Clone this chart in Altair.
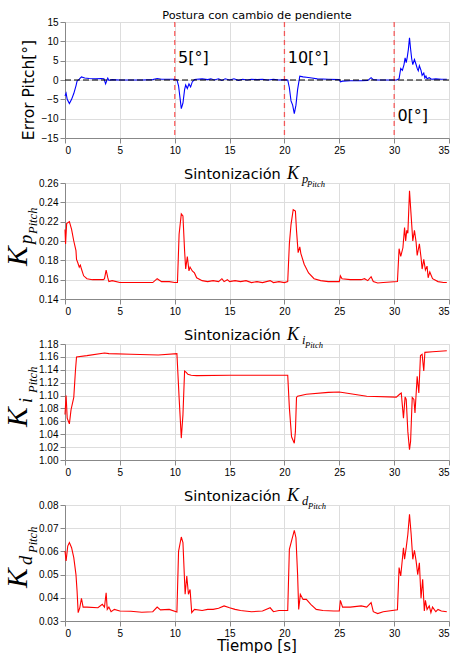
import altair as alt
import pandas as pd

# ---------------- data ----------------
t_err = [0, 0.1, 0.2, 0.4, 0.6, 0.8, 1.0, 1.1, 1.3, 1.5, 1.8, 2.2, 2.8, 3.3, 3.55, 3.7, 3.8, 3.9, 4.0, 4.3,
         5, 6, 7, 8, 8.4, 8.8, 9.5, 10.0, 10.2, 10.35, 10.5, 10.6, 10.75, 10.9, 11.0, 11.15, 11.3, 11.45,
         11.6, 11.8, 12.0, 12.5, 13.0, 13.3, 13.6, 14.0, 14.3, 14.6, 15.0, 15.4, 15.8, 16.2, 16.6, 17.0,
         17.5, 18.0, 18.5, 19.0, 19.5, 20.0, 20.3, 20.45, 20.6, 20.75, 20.9, 21.05, 21.2, 21.4, 21.7, 22.0,
         22.5, 23.0, 24.0, 25.0, 25.1, 25.3, 26.0, 27.0, 27.6, 27.9, 28.1, 28.5, 29.5, 30.2, 30.45, 30.6,
         30.75, 30.9, 31.0, 31.1, 31.2, 31.3, 31.4, 31.5, 31.6, 31.7, 31.85, 32.0, 32.1, 32.2, 32.3, 32.45,
         32.55, 32.7, 32.8, 32.9, 33.0, 33.2, 33.4, 33.8, 34.3, 34.8]
err_pitch = [-4.1, -3.4, -5.0, -6.1, -5.0, -3.5, -1.5, -0.3, 0.2, 0.8, 0.5, 0.4, 0.3, 0.4, 0.3, -1.0, -0.2, 0.5, -0.1, 0.1,
             0.0, 0.0, 0.0, 0.1, 0.4, 0.2, 0.2, 0.2, 0.1, -1.5, -5.0, -7.4, -6.0, -2.5, -1.3, -2.2, -1.0, -1.8,
             -0.5, 0.1, 0.2, 0.3, 0.1, 0.3, 0.0, 0.3, -0.1, 0.3, 0.0, 0.3, -0.1, 0.2, 0.0, 0.2,
             0.1, 0.2, 0.0, 0.2, 0.0, 0.1, 0.0, -2.0, -5.4, -6.5, -8.7, -6.5, -2.5, 1.0, 0.8, 0.7,
             0.5, 0.3, 0.2, 0.1, -0.5, -0.3, -0.2, -0.2, -0.1, 0.6, 0.1, 0.0, 0.0, 0.0, 0.3, 3.0,
             2.5, 4.0, 5.7, 4.5, 6.0, 8.0, 10.9, 8.0, 5.5, 4.0, 5.3, 4.0, 3.0, 2.4, 3.7, 2.5,
             1.2, 1.8, 0.5, 1.0, 0.3, 0.6, 0.2, 0.3, 0.2, 0.2]

t_kp = [0, 0.05, 0.15, 0.4, 0.6, 0.8, 1.0, 1.05, 1.15, 1.3, 1.4, 1.5, 1.7, 2.0, 2.5, 3.0, 3.5, 3.6, 3.75, 3.9,
        4.0, 4.3, 5.0, 6.0, 7.0, 8.0, 8.4, 8.8, 9.5, 10.0, 10.25, 10.4, 10.6, 10.75, 10.9, 11.0, 11.15, 11.3,
        11.4, 11.6, 11.8, 12.0, 12.5, 13.0, 13.5, 14.0, 14.3, 14.5, 14.8, 15.0, 15.5, 16.0, 16.5, 17.0, 17.5,
        18.0, 18.7, 19.0, 19.5, 20.0, 20.3, 20.45, 20.6, 20.8, 21.0, 21.1, 21.25, 21.4, 21.5, 21.8, 22.2, 22.7,
        23.3, 24.0, 25.0, 25.1, 25.25, 26.0, 27.0, 27.3, 27.6, 27.9, 28.1, 28.5, 29.0, 30.3, 30.45, 30.6, 30.8,
        30.95, 31.05, 31.15, 31.25, 31.4, 31.55, 31.7, 31.85, 32.0, 32.1, 32.3, 32.45, 32.55, 32.7, 32.85,
        33.0, 33.1, 33.25, 33.5, 34.0, 34.5, 34.8]
kp_pitch = [0.212, 0.197, 0.218, 0.220, 0.212, 0.200, 0.190, 0.181, 0.178, 0.173, 0.175, 0.171, 0.164, 0.161, 0.160, 0.160, 0.160, 0.161, 0.170, 0.162,
            0.158, 0.159, 0.157, 0.157, 0.157, 0.157, 0.161, 0.158, 0.158, 0.157, 0.157, 0.207, 0.228, 0.226, 0.190, 0.171, 0.184, 0.169,
            0.173, 0.169, 0.167, 0.162, 0.159, 0.158, 0.159, 0.158, 0.161, 0.158, 0.160, 0.158, 0.159, 0.158, 0.159, 0.157, 0.158,
            0.157, 0.159, 0.157, 0.158, 0.157, 0.158, 0.197, 0.217, 0.2324, 0.231, 0.211, 0.188, 0.194, 0.187, 0.176, 0.167, 0.161,
            0.159, 0.158, 0.158, 0.164, 0.161, 0.160, 0.160, 0.161, 0.159, 0.163, 0.158, 0.1565, 0.157, 0.158, 0.192, 0.184, 0.193,
            0.214, 0.200, 0.211, 0.208, 0.252, 0.226, 0.200, 0.211, 0.199, 0.185, 0.197, 0.183, 0.171, 0.181, 0.170,
            0.174, 0.162, 0.168, 0.161, 0.158, 0.157, 0.157]

t_ki = [0, 0.1, 0.2, 0.4, 0.55, 0.8, 0.95, 1.05, 2.0, 3.6, 4.0, 6.0, 8.5, 10.2, 10.4, 10.6, 10.75, 10.9, 11.05,
        11.2, 11.5, 12.0, 15.0, 20.3, 20.45, 20.65, 20.9, 21.0, 21.1, 21.2, 22.0, 24.0, 25.0, 27.5, 30.2, 30.5,
        30.65, 30.85, 31.0, 31.1, 31.25, 31.4, 31.5, 31.65, 31.8, 31.9, 32.1, 32.25, 32.4, 32.55, 32.7, 32.8,
        33.5, 34.8]
ki_pitch = [1.0705, 1.100, 1.065, 1.056, 1.078, 1.097, 1.138, 1.160, 1.162, 1.166, 1.165, 1.164, 1.163, 1.165, 1.097, 1.034, 1.070, 1.138, 1.136,
            1.133, 1.1315, 1.131, 1.1315, 1.1315, 1.081, 1.036, 1.026, 1.044, 1.097, 1.099, 1.102, 1.105, 1.1055, 1.099, 1.0975, 1.102,
            1.104, 1.065, 1.098, 1.094, 1.044, 1.016, 1.029, 1.097, 1.094, 1.073, 1.130, 1.104, 1.162, 1.164, 1.138, 1.167,
            1.168, 1.1696]

t_kd = [0, 0.1, 0.25, 0.4, 0.6, 0.8, 1.0, 1.1, 1.2, 1.35, 1.5, 1.65, 2.0, 3.0, 3.4, 3.6, 3.75, 3.85, 4.0, 4.2,
        4.5, 5.0, 6.0, 7.0, 8.0, 8.4, 8.7, 9.5, 10.2, 10.35, 10.6, 10.75, 10.95, 11.1, 11.25, 11.4, 11.55, 11.8,
        12.5, 13.0, 13.5, 14.0, 14.5, 15.0, 15.5, 16.0, 17.0, 18.0, 18.7, 19.0, 19.5, 20.3, 20.45, 20.65, 20.9,
        21.05, 21.2, 21.3, 21.45, 21.7, 22.0, 22.4, 22.9, 23.5, 24.5, 25.0, 25.1, 25.3, 26.0, 27.0, 27.5, 27.9,
        28.1, 28.5, 29.0, 30.3, 30.45, 30.6, 30.85, 30.95, 31.1, 31.25, 31.4, 31.55, 31.7, 31.85, 32.0, 32.15,
        32.3, 32.45, 32.6, 32.75, 32.85, 33.0, 33.2, 33.35, 33.5, 33.8, 34.0, 34.3, 34.8]
kd_pitch = [0.0602, 0.0559, 0.0623, 0.0638, 0.0616, 0.0573, 0.050, 0.0429, 0.0336, 0.0358, 0.0398, 0.036, 0.036, 0.0357, 0.0372, 0.036, 0.0422, 0.035, 0.036, 0.034,
            0.035, 0.0343, 0.0342, 0.0338, 0.034, 0.036, 0.0348, 0.035, 0.0339, 0.060, 0.0662, 0.0638, 0.0415, 0.0494, 0.0415, 0.0436, 0.0336, 0.035,
            0.0345, 0.035, 0.035, 0.0355, 0.0365, 0.0357, 0.035, 0.0345, 0.034, 0.0343, 0.0357, 0.034, 0.0345, 0.0345, 0.0609, 0.0645, 0.0691,
            0.0659, 0.050, 0.035, 0.0415, 0.0393, 0.0393, 0.0372, 0.035, 0.0345, 0.0343, 0.0343, 0.0389, 0.036, 0.036, 0.0365, 0.036, 0.0379,
            0.034, 0.0332, 0.034, 0.0348, 0.053, 0.0494, 0.0616, 0.0566, 0.0616, 0.0674, 0.076, 0.0674, 0.0566, 0.0605, 0.0559, 0.050,
            0.0551, 0.0398, 0.048, 0.0343, 0.0389, 0.035, 0.0365, 0.0336, 0.036, 0.034, 0.035, 0.0343, 0.034]

change_times = [10, 20, 30]
ann_x = [10.3, 20.3, 30.3]
ann_y = [4.4, 4.4, -10.5]
ann_text = ["5[°]", "10[°]", "0[°]"]
x_ticks = [0, 5, 10, 15, 20, 25, 30, 35]
err_ticks = [-15, -10, -5, 0, 5, 10, 15]
kp_ticks = [0.14, 0.16, 0.18, 0.20, 0.22, 0.24, 0.26]
ki_ticks = [1.00, 1.02, 1.04, 1.06, 1.08, 1.10, 1.12, 1.14, 1.16, 1.18]
kd_ticks = [0.03, 0.04, 0.05, 0.06, 0.07, 0.08]

W, H = 384, 116
SANS = "DejaVu Sans"
SERIF = "Liberation Serif"

x_scale = alt.Scale(domain=[0, 35], nice=False, zero=False)


def xaxis():
    return alt.Axis(values=x_ticks, format="d", title=None, grid=True)


def txt(s, x, y, size, font=SANS, style="normal", angle=0, align="left", baseline="alphabetic"):
    kw = dict(font=font, fontSize=size, fontStyle=style, align=align, baseline=baseline, color="black")
    if angle:
        kw["angle"] = angle
    return alt.Chart(pd.DataFrame({"s": [s]})).mark_text(**kw).encode(
        text="s:N", x=alt.value(x), y=alt.value(y))


# ---------------- panel 1 ----------------
df1 = pd.DataFrame({"t": t_err, "v": err_pitch})
ys1 = alt.Scale(domain=[-15, 15], nice=False, zero=False)


def yaxis1():
    return alt.Axis(values=err_ticks, format="d", title=None, grid=True)


line1 = alt.Chart(df1).mark_line(color="#0000ff", strokeWidth=1.1).encode(
    x=alt.X("t:Q", scale=x_scale, axis=xaxis()),
    y=alt.Y("v:Q", scale=ys1, axis=yaxis1()))
zero1 = alt.Chart(pd.DataFrame({"z": [0]})).mark_rule(color="black", strokeDash=[6, 3], strokeWidth=1).encode(
    y=alt.Y("z:Q", scale=ys1, axis=yaxis1()))
vlines = alt.Chart(pd.DataFrame({"c": change_times})).mark_rule(
    color="#ff0000", strokeDash=[5, 4], strokeWidth=1.3, opacity=0.6).encode(
    x=alt.X("c:Q", scale=x_scale, axis=xaxis()))
ann = alt.Chart(pd.DataFrame({"x": ann_x, "y": ann_y, "s": ann_text})).mark_text(
    align="left", baseline="alphabetic", fontSize=16, font=SANS, color="black").encode(
    x=alt.X("x:Q", scale=x_scale, axis=xaxis()), y=alt.Y("y:Q", scale=ys1, axis=yaxis1()), text="s:N")
p1 = alt.layer(
    line1, vlines, zero1, ann,
    txt("Postura con cambio de pendiente", W / 2, -3, 11.3, align="center"),
    txt("Error Pitch[°]", -36, 68, 15.5, angle=270, align="center", baseline="middle"),
).properties(width=W, height=H)


# ---------------- K panels ----------------
def kpanel(tt, vv, dom, step_vals, sub, ylab_pos, sub_w, bottom=False):
    df = pd.DataFrame({"t": tt, "v": vv})
    ys = alt.Scale(domain=dom, nice=False, zero=False)
    line = alt.Chart(df).mark_line(color="#ff0000", strokeWidth=1.1).encode(
        x=alt.X("t:Q", scale=x_scale, axis=xaxis()),
        y=alt.Y("v:Q", scale=ys, axis=alt.Axis(values=step_vals, format=".2f", title=None, grid=True)))
    kb, sb, pb = ylab_pos
    layers = [
        line,
        # title
        txt("Sintonización", 119, -4, 14.5),
        txt("K", 222, -4, 18, font=SERIF, style="italic"),
        txt(sub, 237, 0, 12.5, font=SERIF, style="italic"),
        txt("Pitch", 237 + sub_w, 4, 8.5, font=SERIF, style="italic"),
        # y label
        txt("K", -38.5, kb, 29.5, font=SERIF, style="italic", angle=270),
        txt(sub, -33, sb, 18.5, font=SERIF, style="italic", angle=270),
        txt("Pitch", -28.5, pb, 12.5, font=SERIF, style="italic", angle=270),
    ]
    if bottom:
        layers.append(txt("Tiempo [s]", W / 2, H + 29.5, 15, align="center"))
    return alt.layer(*layers).properties(width=W, height=H)


p2 = kpanel(t_kp, kp_pitch, [0.14, 0.26], kp_ticks, "p", (83, 61, 51), 5)
p3 = kpanel(t_ki, ki_pitch, [1.00, 1.18], ki_ticks, "i", (83, 59, 49), 3)
p4 = kpanel(t_kd, kd_pitch, [0.03, 0.08], kd_ticks, "d", (83, 60, 48), 6, bottom=True)

chart = alt.vconcat(p1, p2, p3, p4, spacing=45, bounds="flush").properties(
    padding={"left": 2, "top": 9, "right": 0, "bottom": 3}
).configure_view(stroke="#333", strokeWidth=1).configure_axis(
    domain=False, ticks=False, labelPadding=1, labelFont=SANS, labelFontSize=10, labelColor="#111",
    gridColor="#888", gridDash=[1, 2], gridWidth=0.8, gridOpacity=1
).configure(background="white")

chart.save("out.html", embed_options={"renderer": "svg", "actions": False})
